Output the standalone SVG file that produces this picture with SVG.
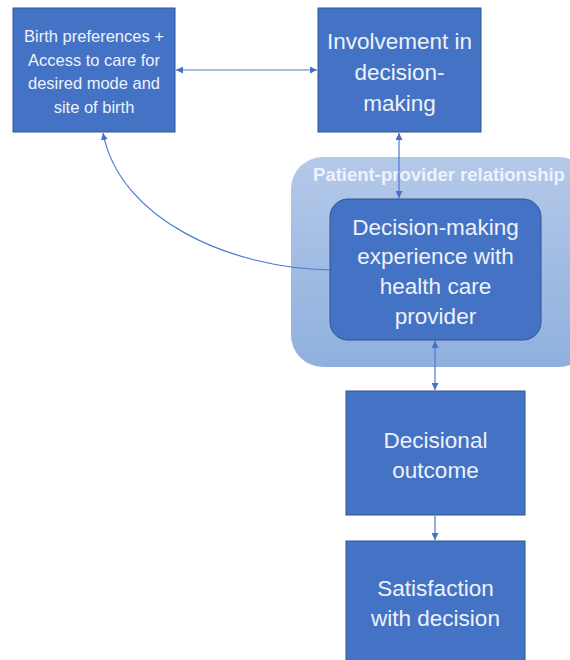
<svg xmlns="http://www.w3.org/2000/svg" width="570" height="660" viewBox="0 0 570 660">
<defs>
<linearGradient id="grp" x1="0" y1="0" x2="0" y2="1">
<stop offset="0" stop-color="#b4c9e9"/>
<stop offset="1" stop-color="#8fb0de"/>
</linearGradient>
<marker id="ah" viewBox="0 0 10 10" refX="10" refY="5" markerWidth="7" markerHeight="7" orient="auto-start-reverse" markerUnits="userSpaceOnUse">
<path d="M0,0 L10,5 L0,10 Z" fill="#4472c4"/>
</marker>
<style>
.box{fill:#4472c4;stroke:#2f5597;stroke-width:1}
.t{fill:#eef2fa;font-family:"Liberation Sans",Arial,sans-serif;text-anchor:middle}
.s{font-size:16.5px}
.l{font-size:22.5px}
.c{fill:none;stroke:#4a7bd0;stroke-width:1.2}
</style>
</defs>
<g id="relationship">
<rect x="291" y="157" width="300" height="210" rx="32" fill="url(#grp)"/>
<text class="t" x="439" y="181" style="font-size:18.5px;font-weight:bold">Patient-provider relationship</text>
</g>
<g id="birth">
<rect class="box" x="13" y="8" width="162" height="124"/>
<text class="t s" x="94" y="42">Birth preferences +</text>
<text class="t s" x="94" y="66">Access to care for</text>
<text class="t s" x="94" y="89">desired mode and</text>
<text class="t s" x="94" y="113">site of birth</text>
</g>
<g id="involvement">
<rect class="box" x="318" y="8" width="163" height="124"/>
<text class="t l" x="399.5" y="49">Involvement in</text>
<text class="t l" x="399.5" y="80">decision-</text>
<text class="t l" x="399.5" y="111">making</text>
</g>
<g id="experience">
<rect x="330" y="199" width="211" height="141" rx="18" fill="#4472c4" stroke="#2f528f" stroke-width="1"/>
<text class="t l" x="435.5" y="235">Decision-making</text>
<text class="t l" x="435.5" y="264">experience with</text>
<text class="t l" x="435.5" y="294">health care</text>
<text class="t l" x="435.5" y="324">provider</text>
</g>
<g id="outcome">
<rect class="box" x="346" y="391" width="179" height="124"/>
<text class="t l" x="435.5" y="448">Decisional</text>
<text class="t l" x="435.5" y="478">outcome</text>
</g>
<g id="satisfaction">
<rect class="box" x="346" y="541" width="179" height="130"/>
<text class="t l" x="435.5" y="596">Satisfaction</text>
<text class="t l" x="435.5" y="626">with decision</text>
</g>
<g id="connectors">
<line class="c" x1="176" y1="70" x2="317" y2="70" marker-start="url(#ah)" marker-end="url(#ah)"/>
<line class="c" x1="399" y1="133" x2="399" y2="198" marker-start="url(#ah)" marker-end="url(#ah)"/>
<line class="c" x1="435" y1="341" x2="435" y2="390" marker-start="url(#ah)" marker-end="url(#ah)"/>
<line class="c" x1="435" y1="516" x2="435" y2="540" marker-end="url(#ah)"/>
<path class="c" d="M330,270 C230,268 120,220 103,133" marker-end="url(#ah)"/>
</g>
</svg>
